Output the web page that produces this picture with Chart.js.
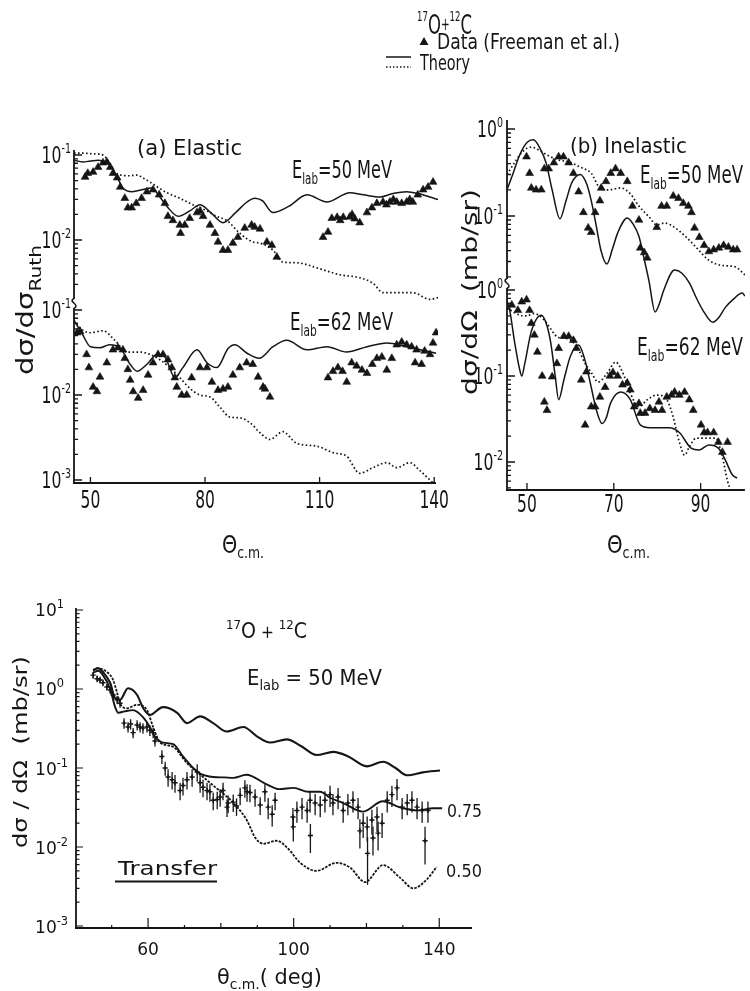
<!DOCTYPE html>
<html><head><meta charset="utf-8">
<script src="https://cdn.jsdelivr.net/npm/chart.js@4.4.1/dist/chart.umd.min.js"></script>
<style>
html,body{margin:0;padding:0;background:#fff}
body{width:750px;height:991px;position:relative;overflow:hidden}
canvas{position:absolute}
</style></head>
<body>
<canvas id="leg" width="750" height="100" style="left:0;top:0;width:750px;height:100px"></canvas>
<canvas id="ca" width="460" height="470" style="left:0;top:100px;width:460px;height:470px"></canvas>
<canvas id="cb" width="310" height="470" style="left:440px;top:100px;width:310px;height:470px"></canvas>
<canvas id="cc" width="520" height="416" style="left:0;top:575px;width:520px;height:416px"></canvas>
<script>
// ---------------- DATA ----------------
// (a) Elastic, E_lab = 50 MeV  (dσ/dσ_Ruth)
const a50DataAngle = [48.6,49.3,50.7,52.0,53.3,54.3,55.2,55.9,57.0,57.8,
  59.0,59.8,60.8,62.0,63.4,64.8,66.4,68.0,69.5,70.3,
  71.6,73.4,73.6,74.7,76.0,77.9,78.7,79.5,81.3,82.6,
  83.4,84.7,86.0,87.3,88.6,90.4,92.2,93.0,94.4,96.2,
  97.5,98.8,110.9,112.2,113.2,114.6,115.4,116.2,117.9,118.5,
  119.2,120.5,122.4,123.7,125.0,126.6,127.5,128.4,129.3,130.2,
  131.5,132.8,133.6,134.4,135.7,137.1,138.4,139.7];
const a50DataValue = [0.055,0.061,0.063,0.072,0.081,0.083,0.072,0.061,0.054,0.042,
  0.031,0.024,0.024,0.027,0.031,0.037,0.039,0.034,0.027,0.019,
  0.017,0.015,0.012,0.015,0.018,0.021,0.022,0.019,0.015,0.012,
  0.0095,0.0076,0.0076,0.0092,0.0108,0.0138,0.015,0.0142,0.0135,0.0095,
  0.0087,0.0063,0.0108,0.0124,0.018,0.0185,0.017,0.0185,0.0187,0.020,
  0.0178,0.016,0.021,0.024,0.027,0.028,0.026,0.028,0.030,0.028,
  0.027,0.028,0.030,0.028,0.034,0.039,0.042,0.048];
const a50SolidAngle = [45.7,48,50,52,54,55.5,57,58.5,61,63.5,66,68,70,73,76,78.7,81.5,84.7,88,91,93,95,97.8,102,106.7,111.9,117.9,121.5,125.8,129,132.8,136,141];
const a50SolidValue = [0.087,0.083,0.085,0.087,0.082,0.072,0.055,0.041,0.037,0.039,0.041,0.033,0.025,0.019,0.022,0.026,0.021,0.016,0.021,0.028,0.031,0.029,0.021,0.025,0.034,0.028,0.036,0.034,0.032,0.035,0.037,0.035,0.030];
const a50DotAngle = [45.7,48,51,53.3,55,56.4,58,60,62.2,64,65.6,70,73.4,76.8,80.5,83,85.7,89.1,92.5,94.4,97.8,100.4,104.1,109.3,115.3,120.5,124,126.6,130.2,134.4,138.9,141];
const a50DotValue = [0.105,0.105,0.103,0.1,0.08,0.063,0.058,0.057,0.058,0.053,0.048,0.036,0.031,0.026,0.022,0.019,0.017,0.012,0.0095,0.0092,0.0076,0.0055,0.0054,0.0047,0.0039,0.0036,0.0031,0.0024,0.0024,0.0024,0.0020,0.0021];

// (a) Elastic, E_lab = 62 MeV
const a62DataAngle = [46.5,47.3,49.0,49.6,50.7,51.7,52.5,54.3,55.9,57.2,
  58.5,59.0,59.8,60.4,61.2,62.5,63.8,65.1,66.4,67.7,
  69.0,70.3,71.3,72.1,72.6,73.9,75.2,76.5,78.7,80.5,
  81.8,83.4,84.7,86.0,87.3,89.1,90.9,92.5,93.9,95.2,
  95.7,97.0,112.2,113.5,114.8,116.0,117.1,118.4,119.7,121.1,
  122.4,123.8,125.0,126.3,127.6,128.9,130.2,131.5,132.8,134.1,
  135.0,135.4,136.7,137.5,138.9,139.7,140.5];
const a62DataValue = [0.054,0.056,0.030,0.021,0.0124,0.011,0.0163,0.024,0.034,0.036,
  0.034,0.027,0.020,0.015,0.011,0.0092,0.0114,0.0172,0.024,0.030,
  0.030,0.026,0.021,0.016,0.0124,0.010,0.010,0.016,0.021,0.021,
  0.0142,0.0114,0.0118,0.0124,0.0172,0.021,0.024,0.023,0.0163,0.0124,
  0.0118,0.0095,0.016,0.019,0.021,0.019,0.0142,0.024,0.022,0.0197,
  0.018,0.023,0.027,0.028,0.0197,0.027,0.039,0.042,0.039,0.037,
  0.024,0.034,0.023,0.033,0.030,0.041,0.054];
const a62SolidAngle = [45.7,47.7,50,52.5,55,57.7,60.4,62.2,64.8,67.4,69.5,72.1,74.2,77.9,80.5,83.1,86,87.8,91,94.2,97.8,101.4,106.7,111.9,117.1,122.4,127.6,132.8,140.5];
const a62SolidValue = [0.075,0.054,0.037,0.036,0.039,0.036,0.023,0.019,0.023,0.030,0.028,0.016,0.021,0.034,0.024,0.021,0.035,0.039,0.031,0.027,0.037,0.044,0.034,0.037,0.032,0.037,0.041,0.037,0.031];
const a62DotAngle = [45.7,48,50,53.3,56.4,59.6,63,65.6,68.2,70.8,73.4,76,78.7,81.3,83.9,86.5,89.1,91.8,94.4,97,100.4,104,109.3,113.5,117.1,120.5,124,127.6,130.2,133.6,136.2,138.9,140.5];
const a62DotValue = [0.075,0.058,0.054,0.057,0.044,0.032,0.032,0.030,0.026,0.021,0.016,0.012,0.010,0.0095,0.0072,0.0055,0.0054,0.0047,0.0036,0.0030,0.0037,0.0027,0.0025,0.0021,0.0019,0.0012,0.0014,0.0016,0.0014,0.0016,0.0013,0.0010,0.00085];

// (b) Inelastic, E_lab = 50 MeV (mb/sr)
const b50DataAngle = [49.9,50.6,51.0,52.1,53.3,54.0,55.0,56.2,57.3,58.4,
  59.6,60.7,61.9,63.0,64.1,64.8,65.7,66.8,67.1,68.2,
  69.3,70.4,71.6,73.1,74.3,75.8,76.1,77.0,77.7,79.9,
  81.0,82.2,83.7,84.9,86.0,87.2,87.9,88.6,89.7,90.8,
  91.9,93.0,94.2,95.3,96.4,97.5,98.4];
const b50DataValue = [0.48,0.31,0.21,0.20,0.20,0.35,0.35,0.41,0.48,0.48,
  0.41,0.31,0.19,0.11,0.073,0.065,0.11,0.15,0.21,0.25,
  0.31,0.35,0.31,0.25,0.13,0.09,0.043,0.038,0.033,0.074,
  0.13,0.13,0.17,0.16,0.14,0.13,0.11,0.073,0.057,0.046,
  0.039,0.041,0.043,0.046,0.044,0.041,0.041];
const b50SolidAngle = [45.4,46.5,48.3,50,51.5,53,54.4,55.8,57.6,59,60.3,62.3,63.8,64.8,66,67,68.4,69.7,70.9,73.1,74.5,75.8,77,78.1,79.5,80.5,81.5,84,85.7,87.4,89,90.5,92.8,94.2,95.7,97.5,99.6,100.2];
const b50SolidValue = [0.2,0.28,0.5,0.7,0.75,0.6,0.41,0.2,0.093,0.15,0.24,0.30,0.23,0.15,0.075,0.041,0.028,0.042,0.064,0.095,0.08,0.058,0.032,0.018,0.0079,0.0098,0.014,0.024,0.022,0.017,0.0115,0.0083,0.006,0.0068,0.0089,0.011,0.013,0.012];
const b50DotAngle = [45.4,47,49,51,52.8,55,57.3,59.6,62.5,64.8,66.8,68.6,71.6,73.8,75.8,78.1,79.9,81.7,84,86.7,88.9,91.9,95,98,100.2];
const b50DotValue = [0.3,0.4,0.55,0.62,0.57,0.49,0.44,0.42,0.36,0.31,0.21,0.20,0.21,0.18,0.13,0.098,0.079,0.083,0.074,0.057,0.044,0.031,0.027,0.026,0.021];

// (b) Inelastic, E_lab = 62 MeV
const b62DataAngle = [46.5,47.9,48.8,49.9,50.6,51.0,51.7,52.4,53.5,54.0,
  54.6,55.8,56.9,57.3,58.5,59.6,60.7,61.4,62.5,63.4,
  63.7,64.8,65.7,66.8,68.0,69.1,69.8,70.9,72.0,73.1,
  73.8,74.7,75.8,76.1,77.2,78.3,79.5,80.4,81.1,82.2,
  83.3,84.0,85.1,86.3,87.4,88.3,90.1,90.8,91.6,93.0,
  94.1,95.0,96.2];
const b62DataValue = [0.67,0.58,0.73,0.77,0.58,0.41,0.30,0.19,0.10,0.05,
  0.04,0.098,0.14,0.21,0.29,0.29,0.26,0.21,0.09,0.027,
  0.112,0.044,0.044,0.057,0.074,0.10,0.11,0.10,0.079,0.083,
  0.069,0.044,0.048,0.037,0.037,0.042,0.040,0.05,0.04,0.057,
  0.060,0.065,0.06,0.065,0.053,0.04,0.027,0.022,0.022,0.022,
  0.017,0.013,0.017];
const b62SolidAngle = [45.4,46,47.2,48.3,48.8,49.5,51,53.3,54.5,55.5,56.5,57.3,58.5,60,61.9,63.4,64.8,66,67.3,68.2,69.3,71.6,73.8,76.1,78.3,82.8,85.1,87.8,89.7,91.9,94.1,95.7,97.3,98.4];
const b62SolidValue = [0.75,0.59,0.24,0.12,0.1,0.14,0.33,0.51,0.4,0.24,0.1,0.053,0.09,0.17,0.23,0.15,0.074,0.04,0.028,0.032,0.049,0.065,0.053,0.027,0.025,0.025,0.022,0.0145,0.0138,0.0158,0.0145,0.0105,0.0071,0.0065];
const b62DotAngle = [45.4,47,48.3,50,51.5,53,54.4,57.3,59.6,61.9,63.4,64.8,66.4,68.6,70.4,72.5,73.8,75.8,77.7,79.9,82.2,83.7,85.1,86.3,87.4,89,91.2,93.5,95,96.2,96.9];
const b62DotValue = [0.62,0.55,0.51,0.5,0.53,0.5,0.42,0.28,0.27,0.2,0.14,0.11,0.085,0.11,0.145,0.097,0.063,0.044,0.053,0.06,0.053,0.033,0.017,0.012,0.015,0.019,0.019,0.019,0.0115,0.006,0.0047];

// Transfer, E_lab = 50 MeV (mb/sr)
const tTopAngle = [44.9,46.3,47.6,49.6,50.9,52.3,54.5,57,58.6,60.5,64.1,68,70.7,74.3,77.9,81.6,86.2,90,93.5,98.1,102,106.3,110.9,115,120.1,124.6,128,131.1,135.5,140.2];
const tTopValue = [1.74,1.83,1.64,1.19,0.77,0.73,1.02,0.84,0.58,0.47,0.59,0.50,0.37,0.45,0.37,0.29,0.33,0.25,0.21,0.23,0.19,0.146,0.16,0.14,0.105,0.12,0.1,0.081,0.088,0.093];
const t075Angle = [44.9,46.3,47.6,49.6,50.9,51.8,53.5,55.9,58.6,60.5,61.9,64.1,66.9,69.6,72.4,74.3,77.9,81,83.4,87,92.6,96,100,104,107.3,110,113.6,119,124.5,129,134,138.4,140.8];
const t075Value = [1.6,1.7,1.5,1.0,0.6,0.5,0.52,0.54,0.44,0.33,0.25,0.21,0.2,0.14,0.1,0.085,0.077,0.076,0.075,0.082,0.062,0.054,0.056,0.05,0.05,0.042,0.036,0.028,0.038,0.032,0.029,0.031,0.031];
const t050Angle = [44.9,46,48.7,50.4,51.5,52.3,54.2,57,59.7,61.4,63.3,66.9,70.7,74,77,80,82.5,85,87.1,89.5,91.7,95.4,98.5,101.8,106.3,111.8,115.5,119.6,124.6,129.2,132.9,136.6,139.3];
const t050Value = [1.7,1.83,1.64,1.3,0.89,0.66,0.57,0.63,0.54,0.33,0.21,0.185,0.115,0.085,0.065,0.05,0.04,0.03,0.022,0.013,0.011,0.012,0.0095,0.0063,0.005,0.0063,0.0055,0.0036,0.0059,0.0041,0.003,0.0039,0.0056];
const tDataAngle = [44.9,46.0,46.8,47.6,48.7,49.6,50.4,51.5,52.3,53.4,
  54.5,55.2,55.9,57.0,57.8,58.6,59.7,60.5,61.4,61.9,
  63.8,64.7,65.5,66.6,67.4,68.8,69.6,70.7,72.1,73.5,
  74.3,75.1,76.2,77.0,77.9,79.0,79.8,80.6,81.7,82.0,
  83.4,84.3,85.3,86.6,87.2,88.0,89.4,90.8,92.1,93.0,
  94.1,94.9,99.8,99.9,100.9,102.3,103.7,104.5,104.6,105.9,
  107.3,108.6,110.0,110.8,112.2,113.6,114.9,116.3,117.7,118.2,
  119.1,120.2,120.3,121.5,121.8,122.9,123.2,124.3,125.7,127.0,
  128.4,129.8,131.2,132.5,133.9,135.3,136.1,136.9];
const tDataValue = [1.5,1.35,1.3,1.2,1.06,0.97,0.84,0.73,0.66,0.37,
  0.33,0.36,0.28,0.35,0.33,0.32,0.33,0.30,0.28,0.22,
  0.14,0.10,0.077,0.071,0.065,0.052,0.06,0.071,0.077,0.089,
  0.065,0.057,0.052,0.05,0.039,0.040,0.043,0.052,0.032,0.036,
  0.037,0.033,0.045,0.056,0.05,0.049,0.043,0.034,0.05,0.032,
  0.026,0.039,0.024,0.018,0.029,0.032,0.029,0.039,0.014,0.036,
  0.034,0.039,0.046,0.036,0.043,0.029,0.036,0.039,0.032,0.016,
  0.02,0.018,0.0083,0.022,0.013,0.024,0.015,0.02,0.039,0.046,
  0.056,0.032,0.036,0.039,0.032,0.029,0.012,0.029];
const tDataRelErr = [0.1,0.1,0.1,0.1,0.1,0.1,0.1,0.12,0.12,0.15,
  0.15,0.15,0.15,0.15,0.15,0.15,0.15,0.15,0.15,0.15,
  0.2,0.2,0.25,0.25,0.25,0.25,0.25,0.25,0.25,0.25,
  0.25,0.25,0.25,0.25,0.25,0.25,0.25,0.25,0.25,0.25,
  0.25,0.25,0.25,0.25,0.25,0.25,0.25,0.25,0.25,0.3,
  0.3,0.25,0.3,0.35,0.3,0.3,0.3,0.3,0.4,0.3,
  0.3,0.3,0.3,0.3,0.3,0.3,0.3,0.3,0.3,0.4,
  0.35,0.35,0.6,0.35,0.4,0.35,0.4,0.35,0.3,0.3,
  0.3,0.3,0.3,0.3,0.3,0.3,0.5,0.3];

// tick values / labels
const aXTicks = [50, 80, 110, 140];
const aUpperTicks = [0.1, 0.01];
const aLowerTicks = [0.1, 0.01, 0.001];
const bXTicks = [50, 70, 90];
const bUpperTicks = [1, 0.1];
const bLowerTicks = [1, 0.1, 0.01];
const cXLabelTicks = [60, 100, 140];
const cXMidTicks = [80, 120];
const cXMinorTicks = [50, 70, 90, 110, 130];
const cYTicks = [10, 1, 0.1, 0.01, 0.001];

// ---------------- HELPERS ----------------
const INK = '#151515';
const PF = '"DejaVu Sans", sans-serif';
const LF = '"DejaVu Sans", sans-serif';
const pts = (xs, ys) => xs.map((x, i) => ({x: x, y: ys[i]}));

function txt(ctx, parts, x, y, o) {
  o = o || {};
  const fam = o.fam || PF;
  ctx.save();
  let total = 0;
  const ws = parts.map(p => { ctx.font = p.s + 'px ' + fam; const w = ctx.measureText(p.t).width; total += w; return w; });
  const hs = o.w ? o.w / total : (o.hs || 1);
  ctx.translate(x, y);
  if (o.rot) ctx.rotate(o.rot);
  const W = total * hs;
  ctx.translate(o.align === 'center' ? -W / 2 : o.align === 'right' ? -W : 0, 0);
  ctx.scale(hs, 1);
  ctx.fillStyle = INK; ctx.textBaseline = 'alphabetic'; ctx.textAlign = 'left';
  let cx = 0;
  parts.forEach((p, i) => { ctx.font = p.s + 'px ' + fam; ctx.fillText(p.t, cx, p.dy || 0); cx += ws[i]; });
  ctx.restore();
}
function seg(ctx, x1, y1, x2, y2) { ctx.beginPath(); ctx.moveTo(x1, y1); ctx.lineTo(x2, y2); ctx.stroke(); }
function logTicks(ctx, scale, oy, x, y1, y2, maj, mn) {
  const a = Math.floor(Math.log10(scale.min)), b = Math.ceil(Math.log10(scale.max));
  ctx.beginPath();
  for (let d = a; d <= b; d++) for (let m = 1; m <= 9; m++) {
    const y = scale.getPixelForValue(m * Math.pow(10, d)) + oy;
    if (y < y1 - 0.01 || y > y2 + 0.01) continue;
    ctx.moveTo(x, y); ctx.lineTo(x + (m === 1 ? maj : mn), y);
  }
  ctx.stroke();
}
function breakMark(ctx, x, y) {
  ctx.beginPath();
  ctx.moveTo(x, y - 5);
  ctx.bezierCurveTo(x - 7, y - 2, x + 7, y + 1, x, y + 5);
  ctx.stroke();
}
const expOf = v => String(Math.round(Math.log10(v)));
function plotYLabel(ctx, xr, y, v) {
  txt(ctx, [{t: '10', s: 23}, {t: expOf(v), s: 14, dy: -10}], xr, y + 8, {align: 'right', hs: 0.68});
}
function curve(xs, ys, yID, dotted, w) {
  return {data: pts(xs, ys), yAxisID: yID, showLine: true, pointRadius: 0, borderColor: INK,
    borderWidth: w, borderDash: dotted ? [1.6, 2.4] : [], cubicInterpolationMode: 'monotone', fill: false};
}
function tri(xs, ys, yID) {
  return {data: pts(xs, ys), yAxisID: yID, showLine: false, pointStyle: 'triangle', pointRadius: 4.5,
    backgroundColor: INK, borderColor: INK, borderWidth: 0.6};
}
function opts(pad, xmin, xmax, ys) {
  const scales = {x: {type: 'linear', min: xmin, max: xmax, display: false, bounds: 'data'}};
  ys.forEach(([id, lo, hi]) => { scales[id] = {type: 'logarithmic', min: Math.pow(10, lo), max: Math.pow(10, hi), display: false, bounds: 'data'}; });
  return {responsive: false, animation: false, events: [], layout: {padding: pad},
    plugins: {legend: {display: false}, tooltip: {enabled: false}}, scales: scales};
}
function deco(ox, oy, fn) {
  return {id: 'deco', afterDatasetsDraw(chart) { const c = chart.ctx; c.save(); c.translate(-ox, -oy); fn(c, chart, ox, oy); c.restore(); }};
}

// ---------------- LEGEND ----------------
(function () {
  const ctx = document.getElementById('leg').getContext('2d');
  txt(ctx, [{t: '17', s: 14, dy: -13}, {t: 'O', s: 27}, {t: '+', s: 17, dy: -4}, {t: '12', s: 14, dy: -13}, {t: 'C', s: 27}], 417, 34, {w: 55});
  ctx.fillStyle = INK;
  ctx.beginPath(); ctx.moveTo(424, 37); ctx.lineTo(428.5, 45); ctx.lineTo(419.5, 45); ctx.closePath(); ctx.fill();
  txt(ctx, [{t: 'Data (Freeman et al.)', s: 21}], 437, 49, {w: 183});
  ctx.strokeStyle = INK; ctx.lineWidth = 1.5;
  seg(ctx, 386, 57, 411, 57);
  ctx.setLineDash([1.5, 2]); seg(ctx, 386, 67, 411, 67); ctx.setLineDash([]);
  txt(ctx, [{t: 'Theory', s: 21}], 420, 70, {w: 50});
})();

// ---------------- PANEL (a) ----------------
new Chart(document.getElementById('ca'), {
  type: 'scatter',
  data: {datasets: [
    curve(a50SolidAngle, a50SolidValue, 'yU', false, 1.5),
    curve(a50DotAngle, a50DotValue, 'yU', true, 1.7),
    tri(a50DataAngle, a50DataValue, 'yU'),
    curve(a62SolidAngle, a62SolidValue, 'yL', false, 1.5),
    curve(a62DotAngle, a62DotValue, 'yL', true, 1.7),
    tri(a62DataAngle, a62DataValue, 'yL')
  ]},
  options: opts({left: 74, right: 22, top: 50, bottom: 87}, 45.7, 141,
    [['yU', -4.859, -0.941], ['yL', -3.035, 0.882]]),
  plugins: [deco(0, 100, (ctx, ch, ox, oy) => {
    const S = ch.scales, ca = ch.chartArea;
    const L = ca.left + ox, R = ca.right + ox, T = ca.top + oy, B = ca.bottom + oy;
    ctx.strokeStyle = INK; ctx.lineWidth = 1.8;
    seg(ctx, L, T, L, 299); seg(ctx, L, 308, L, B + 0.9); seg(ctx, L - 0.9, B, R - 2, B);
    ctx.lineWidth = 1.5; breakMark(ctx, L, 303.5);
    ctx.lineWidth = 1.3;
    logTicks(ctx, S.yU, oy, L, T, 298, 8, 4);
    logTicks(ctx, S.yL, oy, L, 309, B, 8, 4);
    aXTicks.forEach(v => { const x = S.x.getPixelForValue(v) + ox; seg(ctx, x, B, x, B - 6); });
    aUpperTicks.forEach(v => plotYLabel(ctx, 71, S.yU.getPixelForValue(v) + oy, v));
    aLowerTicks.forEach(v => plotYLabel(ctx, 71, S.yL.getPixelForValue(v) + oy, v));
    aXTicks.forEach(v => txt(ctx, [{t: String(v), s: 25}], S.x.getPixelForValue(v) + ox, 508, {align: 'center', hs: 0.62}));
    txt(ctx, [{t: '(a) Elastic', s: 22}], 137, 155, {w: 105});
    txt(ctx, [{t: 'E', s: 25}, {t: 'lab', s: 16, dy: 6}, {t: '=50 MeV', s: 25}], 292, 178, {w: 100});
    txt(ctx, [{t: 'E', s: 25}, {t: 'lab', s: 16, dy: 6}, {t: '=62 MeV', s: 25}], 290, 330, {w: 103});
    txt(ctx, [{t: 'Θ', s: 25}, {t: 'c.m.', s: 16, dy: 5}], 222, 553, {w: 42});
    txt(ctx, [{t: 'dσ/dσ', s: 23}, {t: 'Ruth', s: 16, dy: 8}], 33, 375, {w: 130, rot: -Math.PI / 2});
  })]
});

// ---------------- PANEL (b) ----------------
new Chart(document.getElementById('cb'), {
  type: 'scatter',
  data: {datasets: [
    curve(b50SolidAngle, b50SolidValue, 'yU', false, 1.5),
    curve(b50DotAngle, b50DotValue, 'yU', true, 1.7),
    tri(b50DataAngle, b50DataValue, 'yU'),
    curve(b62SolidAngle, b62SolidValue, 'yL', false, 1.5),
    curve(b62DotAngle, b62DotValue, 'yL', true, 1.7),
    tri(b62DataAngle, b62DataValue, 'yL')
  ]},
  options: opts({left: 67, right: 0, top: 20, bottom: 80}, 45.4, 100.2,
    [['yU', -4.1494, 0.1034], ['yL', -2.3256, 1.9767]]),
  plugins: [deco(440, 100, (ctx, ch, ox, oy) => {
    const S = ch.scales, ca = ch.chartArea;
    const L = ca.left + ox, R = ca.right + ox, T = ca.top + oy, B = ca.bottom + oy;
    ctx.strokeStyle = INK; ctx.lineWidth = 1.8;
    seg(ctx, L, T, L, 279); seg(ctx, L, 288, L, B + 0.9); seg(ctx, L - 0.9, B, R, B);
    ctx.lineWidth = 1.5; breakMark(ctx, L, 283.5);
    ctx.lineWidth = 1.3;
    logTicks(ctx, S.yU, oy, L, T, 278, 8, 4);
    logTicks(ctx, S.yL, oy, L, 289, B, 8, 4);
    bXTicks.forEach(v => { const x = S.x.getPixelForValue(v) + ox; seg(ctx, x, B, x, B - 7); });
    bUpperTicks.forEach(v => plotYLabel(ctx, 503, S.yU.getPixelForValue(v) + oy, v));
    bLowerTicks.forEach(v => plotYLabel(ctx, 503, S.yL.getPixelForValue(v) + oy, v));
    bXTicks.forEach(v => txt(ctx, [{t: String(v), s: 25}], S.x.getPixelForValue(v) + ox, 512, {align: 'center', hs: 0.62}));
    txt(ctx, [{t: '(b) Inelastic', s: 22}], 570, 153, {w: 117});
    txt(ctx, [{t: 'E', s: 25}, {t: 'lab', s: 16, dy: 6}, {t: '=50 MeV', s: 25}], 640, 183, {w: 103});
    txt(ctx, [{t: 'E', s: 25}, {t: 'lab', s: 16, dy: 6}, {t: '=62 MeV', s: 25}], 637, 355, {w: 106});
    txt(ctx, [{t: 'Θ', s: 25}, {t: 'c.m.', s: 16, dy: 5}], 607, 553, {w: 43});
    txt(ctx, [{t: 'dσ/dΩ  (mb/sr)', s: 22}], 477, 395, {w: 206, rot: -Math.PI / 2});
  })]
});

// ---------------- TRANSFER PANEL ----------------
const tData = pts(tDataAngle, tDataValue);
new Chart(document.getElementById('cc'), {
  type: 'scatter',
  data: {datasets: [
    curve(tTopAngle, tTopValue, 'y', false, 2.1),
    curve(t075Angle, t075Value, 'y', false, 1.9),
    Object.assign(curve(t050Angle, t050Value, 'y', true, 1.8), {borderDash: [2.6, 1.3]}),
    {data: tData, yAxisID: 'y', showLine: false, pointStyle: 'cross', pointRadius: 2.6,
      borderColor: INK, borderWidth: 1.4, backgroundColor: INK}
  ]},
  options: opts({left: 76, right: 48, top: 33, bottom: 63}, 40.2, 149.0, [['y', -3.0253, 1.0253]]),
  plugins: [deco(0, 575, (ctx, ch, ox, oy) => {
    const S = ch.scales, ca = ch.chartArea;
    const L = ca.left + ox, R = ca.right + ox, T = ca.top + oy, B = ca.bottom + oy;
    ctx.strokeStyle = INK;
    ctx.lineWidth = 1.3;
    tDataAngle.forEach((a, i) => {
      const x = S.x.getPixelForValue(a) + ox, v = tDataValue[i], e = tDataRelErr[i];
      seg(ctx, x, S.y.getPixelForValue(v * (1 + e)) + oy, x, S.y.getPixelForValue(v * (1 - e)) + oy);
    });
    ctx.lineWidth = 1.8;
    seg(ctx, L, T, L, B + 0.9); seg(ctx, L - 0.9, B, R, B);
    ctx.lineWidth = 1.2;
    logTicks(ctx, S.y, oy, L, T, B, 7, 3.5);
    cXLabelTicks.forEach(v => { const x = S.x.getPixelForValue(v) + ox; seg(ctx, x, B, x, B - 10); });
    cXMidTicks.forEach(v => { const x = S.x.getPixelForValue(v) + ox; seg(ctx, x, B, x, B - 5); });
    cXMinorTicks.forEach(v => { const x = S.x.getPixelForValue(v) + ox; seg(ctx, x, B, x, B - 3); });
    cYTicks.forEach(v => txt(ctx, [{t: '10', s: 18}, {t: expOf(v), s: 12, dy: -8}], 35, S.y.getPixelForValue(v) + oy + 6.5, {fam: LF, hs: 0.95}));
    cXLabelTicks.forEach(v => txt(ctx, [{t: String(v), s: 18}], S.x.getPixelForValue(v) + ox, 955, {fam: LF, align: 'center', hs: 0.95}));
    txt(ctx, [{t: '17', s: 13, dy: -9}, {t: 'O', s: 21}, {t: ' + ', s: 17}, {t: '12', s: 13, dy: -9}, {t: 'C', s: 21}], 226, 638, {fam: LF, w: 81});
    txt(ctx, [{t: 'E', s: 21}, {t: 'lab', s: 14, dy: 5}, {t: ' = 50 MeV', s: 21}], 247, 685, {fam: LF, w: 135});
    txt(ctx, [{t: 'Transfer', s: 19}], 118, 875, {fam: LF, w: 99});
    ctx.lineWidth = 2; seg(ctx, 115, 881.5, 217, 881.5);
    txt(ctx, [{t: '0.75', s: 18}], 447, 817, {fam: LF, w: 35});
    txt(ctx, [{t: '0.50', s: 18}], 446, 877, {fam: LF, w: 36});
    txt(ctx, [{t: 'θ', s: 21}, {t: 'c.m.', s: 14, dy: 5}, {t: '( deg)', s: 21}], 217, 984, {fam: LF, w: 105});
    txt(ctx, [{t: 'dσ / dΩ  (mb/sr)', s: 20}], 27, 848, {fam: LF, w: 192, rot: -Math.PI / 2});
  })]
});
</script>
</body></html>
